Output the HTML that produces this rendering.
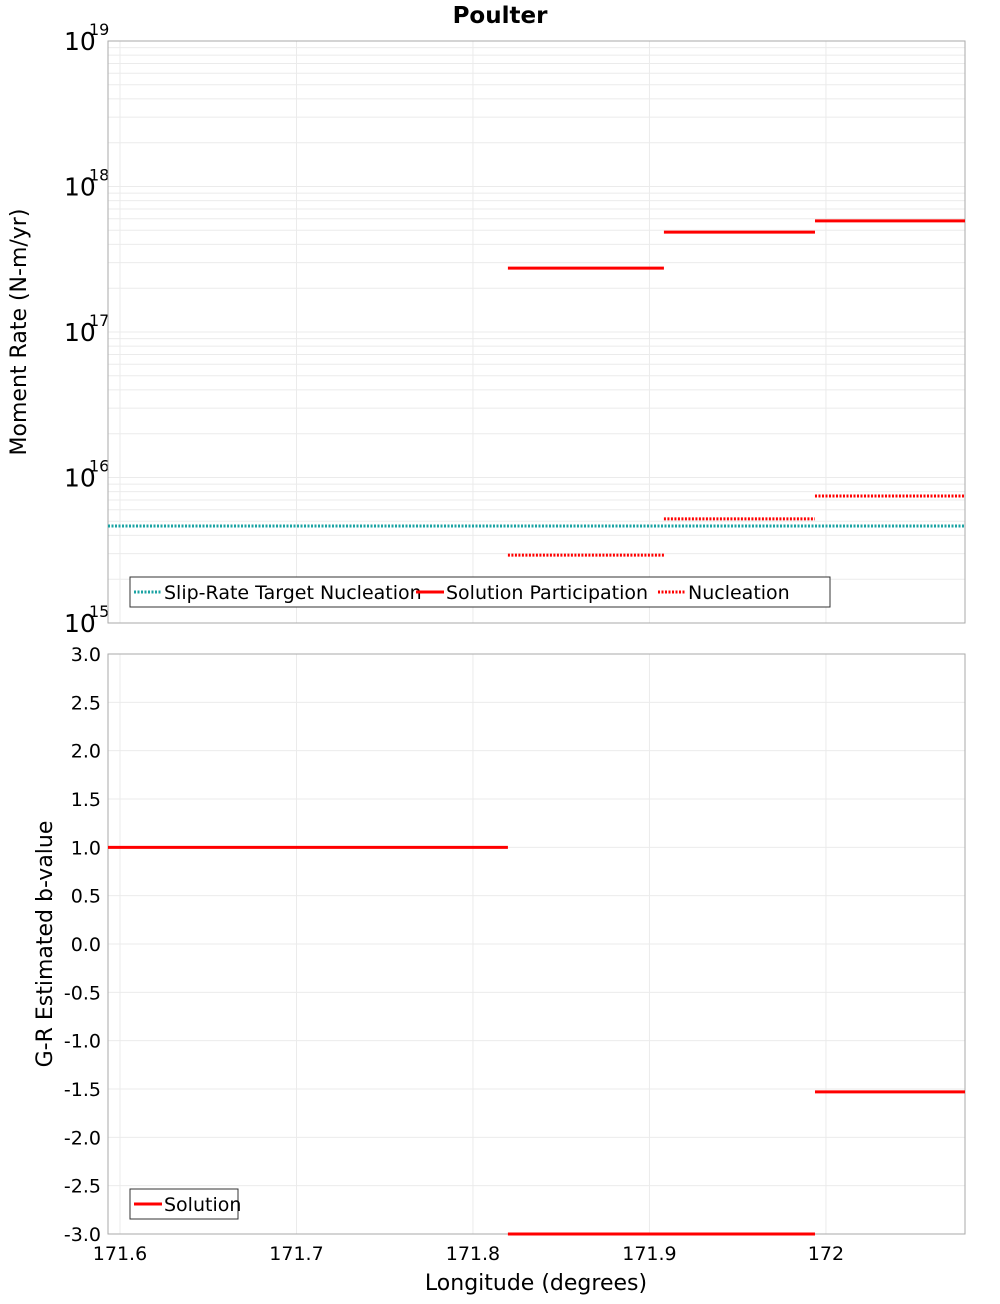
<!DOCTYPE html>
<html><head><meta charset="utf-8"><style>
body{margin:0;background:#fff;font-family:"DejaVu Sans","Liberation Sans",sans-serif}
svg text{font-family:"DejaVu Sans","Liberation Sans",sans-serif}
</style></head><body>
<svg id="c" width="1000" height="1300" xmlns="http://www.w3.org/2000/svg">
<text x="500" y="23" text-anchor="middle" font-size="23" font-weight="bold">Poulter</text>
<g id="topPanel"></g>
<g id="botPanel"></g>
<text transform="translate(26,332) rotate(-90)" text-anchor="middle" font-size="22">Moment Rate (N-m/yr)</text>
<text transform="translate(52,944) rotate(-90)" text-anchor="middle" font-size="22">G-R Estimated b-value</text>
<text x="536" y="1290" text-anchor="middle" font-size="22">Longitude (degrees)</text>
</svg>
<script>
const xTicks=[171.6,171.7,171.8,171.9,172.0];
const xTickLabels=["171.6","171.7","171.8","171.9","172"];
const segStarts=[171.8198,171.9082,171.9938];
const segEnds=[171.9082,171.9938,172.0788];
const participation=[2.75e17,4.86e17,5.8e17];
const nucleation=[2.93e15,5.2e15,7.46e15];
const targetNucleation=[4.64e15];
const bStarts=[171.5932,171.8198,171.9938];
const bEnds=[171.8198,171.9938,172.0788];
const bValues=[1.0,-3.0,-1.53];
const bTicks=[3,2.5,2,1.5,1,0.5,0,-0.5,-1,-1.5,-2,-2.5,-3];

const NS="http://www.w3.org/2000/svg";
const X0=108,X1=965,xmin=171.5932,xmax=172.0788;
const xs=v=>X0+(v-xmin)/(xmax-xmin)*(X1-X0);
const T0=41,T1=623;
const ys=v=>T1-(Math.log10(v)-15)/4*(T1-T0);
const B0=654,B1=1234;
const yb=v=>B0+(3-v)/6*(B1-B0);
function mk(p,tag,a){const e=document.createElementNS(NS,tag);for(const k in a)e.setAttribute(k,a[k]);p.appendChild(e);return e;}
const topG=document.getElementById('topPanel'),botG=document.getElementById('botPanel');
for(let d=15;d<19;d++)for(let m=1;m<10;m++){const y=ys(m*Math.pow(10,d));
 const l=mk(topG,'line',{x1:X0,x2:X1,y1:y,y2:y,stroke:'#ebebeb','stroke-width':1});
 
 }
xTicks.forEach((t,i)=>{[[topG,T0,T1],[botG,B0,B1]].forEach(([g,a,b])=>{const l=mk(g,'line',{x1:xs(t),x2:xs(t),y1:a,y2:b,stroke:'#ebebeb'});
 
 });
 const tx=mk(botG,'text',{x:xs(t),y:1260,'text-anchor':'middle','font-size':19});tx.textContent=xTickLabels[i];
 
 });
for(let d=15;d<=19;d++){const y=ys(Math.pow(10,d));
 const t=mk(topG,'text',{x:64,y:y+9,'font-size':25});t.textContent='10';
 
 
 const s=mk(topG,'text',{x:89,y:y-6,'font-size':16});s.textContent=String(d);
 
 }
bTicks.forEach(v=>{const y=yb(v);
 const l=mk(botG,'line',{x1:X0,x2:X1,y1:y,y2:y,stroke:'#ebebeb'});
 
 
 const t=mk(botG,'text',{x:101,y:y+7,'text-anchor':'end','font-size':19});t.textContent=v.toFixed(1);
 
 });
[[topG,T0,T1],[botG,B0,B1]].forEach(([g,a,b])=>{const r=mk(g,'rect',{x:X0,y:a,width:X1-X0,height:b-a,fill:'none',stroke:'#aaa'});
 
 });
const ty=ys(targetNucleation[0]);
const tl=mk(topG,'line',{x1:X0,x2:X1,y1:ty,y2:ty,stroke:'#1aa3a3','stroke-width':3,'stroke-dasharray':'2,1.5'});


segStarts.forEach((s,i)=>{
 const p=mk(topG,'line',{x1:xs(s),x2:xs(segEnds[i]),y1:ys(participation[i]),y2:ys(participation[i]),stroke:'#f00','stroke-width':3});
 
 
 const n=mk(topG,'line',{x1:xs(s),x2:xs(segEnds[i]),y1:ys(nucleation[i]),y2:ys(nucleation[i]),stroke:'#f00','stroke-width':3,'stroke-dasharray':'2,1.5'});
 
 });
bStarts.forEach((s,i)=>{const l=mk(botG,'line',{x1:xs(s),x2:xs(bEnds[i]),y1:yb(bValues[i]),y2:yb(bValues[i]),stroke:'#f00','stroke-width':3});
 
 });
function legend(g,x,y,w,items){const r=mk(g,'rect',{x:x,y:y,width:w,height:30,fill:'#fff',stroke:'#333'});
 
 
 let cx=x+4;items.forEach(([lab,col,dash,tw])=>{const l=mk(g,'line',{x1:cx,x2:cx+28,y1:y+15,y2:y+15,stroke:col,'stroke-width':3});if(dash)l.setAttribute('stroke-dasharray','2,1.5');
 
 
 const t=mk(g,'text',{x:cx+30,y:y+22,'font-size':19});t.textContent=lab;
 
 cx+=30+tw+6;});}
legend(topG,130,577,700,[["Slip-Rate Target Nucleation","#1aa3a3",1,246],["Solution Participation","#f00",0,206],["Nucleation","#f00",1,110]]);
legend(botG,130,1189,108,[["Solution","#f00",0,80]]);
</script>
</body></html>
